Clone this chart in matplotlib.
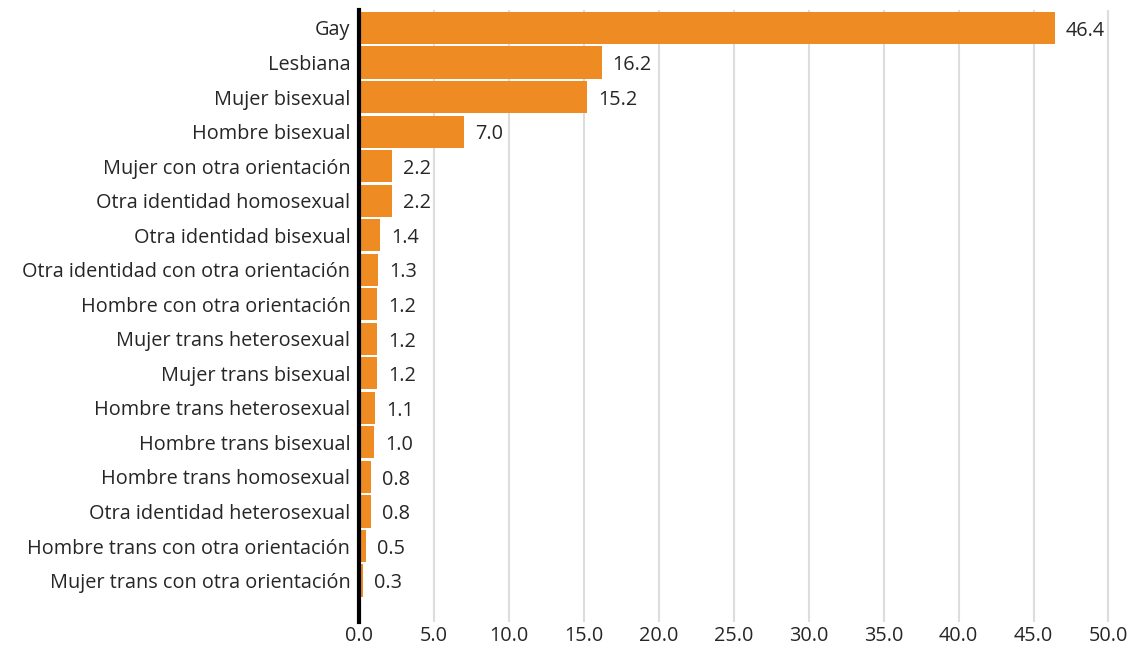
import numpy as np
import matplotlib.pyplot as plt
import matplotlib.transforms as mtransforms

categorias = [
    "Gay", "Lesbiana", "Mujer bisexual", "Hombre bisexual",
    "Mujer con otra orientación", "Otra identidad homosexual",
    "Otra identidad bisexual", "Otra identidad con otra orientación",
    "Hombre con otra orientación", "Mujer trans heterosexual",
    "Mujer trans bisexual", "Hombre trans heterosexual",
    "Hombre trans bisexual", "Hombre trans homosexual",
    "Otra identidad heterosexual", "Hombre trans con otra orientación",
    "Mujer trans con otra orientación",
]
porcentajes = [46.4, 16.2, 15.2, 7.0, 2.2, 2.2, 1.4, 1.3, 1.2, 1.2, 1.2,
               1.1, 1.0, 0.8, 0.8, 0.5, 0.3]
ticks_x = [0, 5, 10, 15, 20, 25, 30, 35, 40, 45, 50]

plt.rcParams['font.family'] = ['Open Sans', 'DejaVu Sans']

fig = plt.figure(figsize=(11.28, 6.49), dpi=100)
ax = fig.add_axes([0.318, 0.0416, 0.678, 0.943])

color_texto = '#262626'
tam = 14.3
y = np.arange(len(categorias))
ax.barh(y, porcentajes, height=0.93, color='#EE8B22', zorder=3)

for yi, v in zip(y, porcentajes):
    ax.annotate(f"{v:.1f}", (v, yi), xytext=(8, -2), textcoords='offset points',
                va='center', ha='left', fontsize=tam, color=color_texto)

ax.set_yticks(y)
ax.set_yticklabels(categorias, fontsize=tam, color=color_texto)
ax.set_ylim(len(categorias) + 0.2, -0.52)
ax.set_xlim(0, 51)
ax.set_xticks(ticks_x)
ax.set_xticklabels([f"{t:.1f}" for t in ticks_x], fontsize=tam, color=color_texto)

desplaza = mtransforms.ScaledTranslation(0, -3 / 72, fig.dpi_scale_trans)
for lab in ax.get_yticklabels():
    lab.set_transform(lab.get_transform() + desplaza)

ax.grid(axis='x', color='#dddddd', linewidth=1.5, zorder=0)
ax.tick_params(axis='both', length=0)
ax.tick_params(axis='y', pad=6)
ax.tick_params(axis='x', pad=3)
for s in ['top', 'right', 'bottom']:
    ax.spines[s].set_visible(False)
ax.spines['left'].set_linewidth(3)
ax.spines['left'].set_color('black')
ax.spines['left'].set_zorder(4)

fig.savefig('out.png', dpi=100)
